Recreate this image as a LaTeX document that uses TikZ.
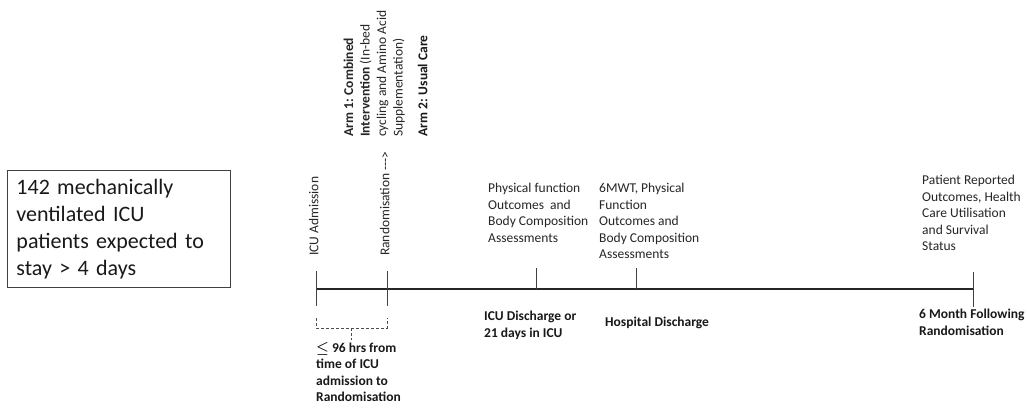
\documentclass[tikz,border=0pt]{standalone}
\usepackage{fontspec}
\setmainfont{Carlito}
\begin{document}
\begin{tikzpicture}[x=1pt,y=-1pt,
  lbl/.style={font=\fontsize{13.5}{16.5}\selectfont, inner sep=0pt, align=left, text=black!85},
  blbl/.style={font=\fontsize{13.5}{16.5}\selectfont\bfseries\boldmath, inner sep=0pt, align=left, text=black!90},
  popbox/.style={draw=black!75, line width=0.9pt, font=\fontsize{22}{27}\selectfont, align=left,
    text width=205pt, inner xsep=9pt, inner ysep=0pt, minimum height=117pt, anchor=north west, text=black!90},
  tl/.style={line width=1.8pt, draw=black!85},
  tick/.style={line width=0.9pt, draw=black!75},
  brk/.style={line width=0.8pt, draw=black!70, dash pattern=on 3pt off 2pt}]
\useasboundingbox[fill=white] (0,0) rectangle (1027,407);

% population box
\node[popbox] (pop) at (7,170) {142 mechanically\\ventilated ICU\\patients expected to\\stay > 4 days};

% timeline points
\coordinate (t0) at (316,289);
\coordinate (t1) at (387,289);
\coordinate (t2) at (536,289);
\coordinate (t3) at (636,289);
\coordinate (t4) at (973,289);
\draw[tl] (t0) -- (t4);
\draw[tick] (316,271) -- (316,306);
\draw[tick] (387,271) -- (387,306);
\draw[tick] (536,268) -- (t2);
\draw[tick] (636,268) -- (t3);
\draw[tick] (973,272) -- (973,307);

% dashed bracket
\coordinate (b0) at (316,318);
\coordinate (b1) at (387,318);
\coordinate (bm) at (351,328);
\draw[brk] (b0) -- (316,328) -- (387,328) -- (b1);
\draw[brk] (bm) -- (351,340);

% rotated labels
\node[lbl, rotate=90, anchor=mid west] (icuadm) at (316,256) {ICU Admission};
\node[lbl, rotate=90, anchor=mid west] (rand) at (387,256) {Randomisation -{}-{}->};
\node[lbl, rotate=90, anchor=north west] (arm1) at (343.5,137)
  {\textbf{Arm 1: Combined}\\\textbf{Intervention} (In-bed\\cycling and Amino Acid\\Supplementation)};
\node[blbl, rotate=90, anchor=mid west] (arm2) at (425,137) {Arm 2: Usual Care};

% labels above timeline
\node[lbl, anchor=north west] (phys) at (488,183) {Physical function\\Outcomes\ \ and\\Body Composition\\Assessments};
\node[lbl, anchor=north west] (sixmwt) at (599,183) {6MWT, Physical\\Function\\Outcomes and\\Body Composition\\Assessments};
\node[lbl, anchor=north west] (pro) at (922,175) {Patient Reported\\Outcomes, Health\\Care Utilisation\\and Survival\\Status};

% labels below timeline
\node[blbl, anchor=north west] (window) at (316,342) {$\leq$ 96 hrs from\\time of ICU\\admission to\\Randomisation};
\node[blbl, anchor=north west] (icudis) at (484,311) {ICU Discharge or\\21 days in ICU};
\node[blbl, anchor=north west] (hosp) at (605,317) {Hospital Discharge};
\node[blbl, anchor=north west] (sixm) at (919,309) {6 Month Following\\Randomisation};
\end{tikzpicture}
\end{document}
